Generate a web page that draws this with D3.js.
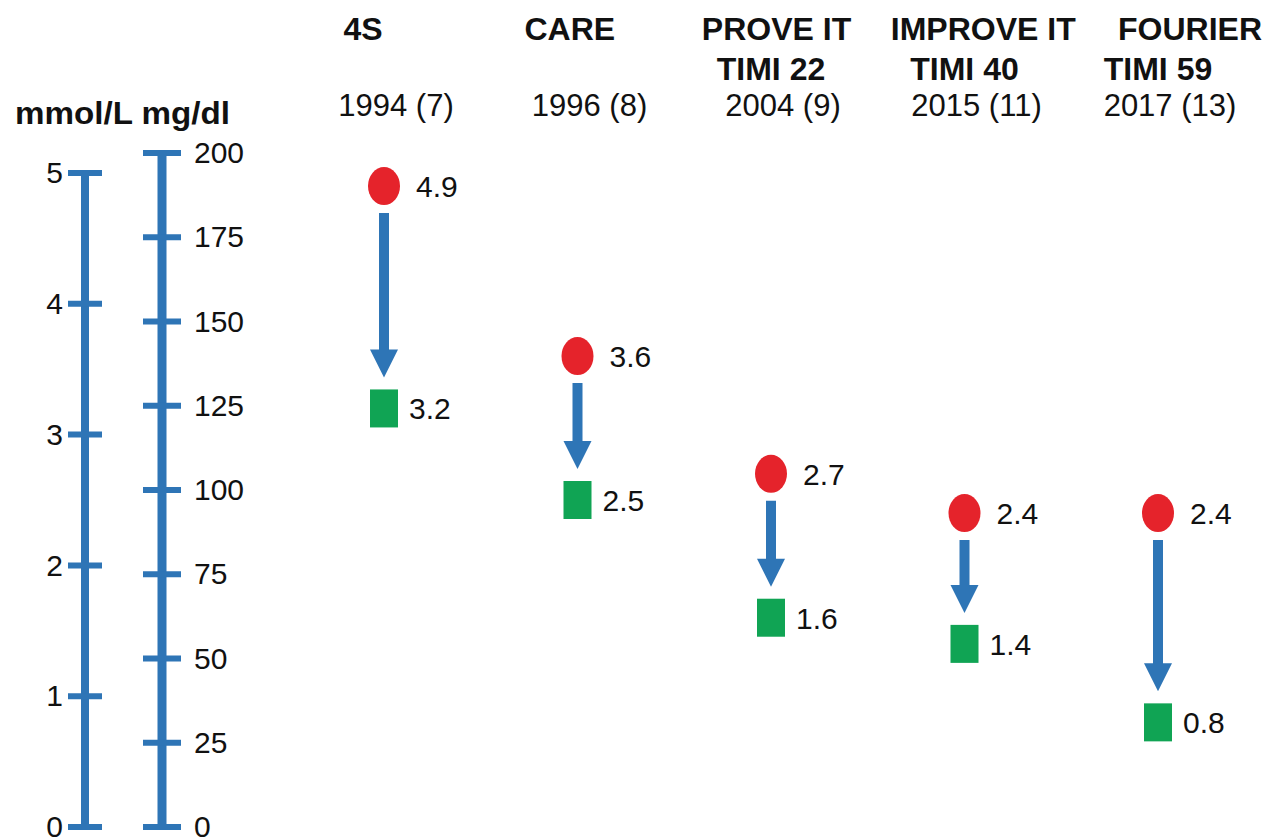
<!DOCTYPE html>
<html>
<head>
<meta charset="utf-8">
<script src="https://cdn.jsdelivr.net/npm/d3@7"></script>
<style>
  html, body { margin: 0; padding: 0; background: #ffffff; }
  svg { display: block; font-family: "Liberation Sans", Arial, sans-serif; }
</style>
</head>
<body>
<svg id="chart" width="1269" height="840"></svg>
<script>
// LDL-C before and after treatment in landmark lipid-lowering trials
const trials    = ["4S", "CARE", "PROVE IT", "IMPROVE IT", "FOURIER"];
const trialSub  = ["", "", "TIMI 22", "TIMI 40", "TIMI 59"];
const years     = ["1994 (7)", "1996 (8)", "2004 (9)", "2015 (11)", "2017 (13)"];
const baseline  = [4.9, 3.6, 2.7, 2.4, 2.4];   // mmol/L, control / baseline
const achieved  = [3.2, 2.5, 1.6, 1.4, 0.8];   // mmol/L, on treatment
const mmolTicks = [0, 1, 2, 3, 4, 5];
const mgdlTicks = [0, 25, 50, 75, 100, 125, 150, 175, 200];

const BLUE = "#2e75b6", RED = "#e5232b", GREEN = "#10a454";

const svg = d3.select("#chart");

const yMmol = d3.scaleLinear().domain([0, 5]).range([827, 173]);
const yMgdl = d3.scaleLinear().domain([0, 200]).range([827, 153]);
const x = d3.scalePoint().domain(trials).range([384, 1158]);
const xHead = d3.scalePoint().domain(trials).range([363, 1190]);

// ---- twin vertical scales ----
function drawScale(xc, scale, ticks, half, width, labelSide, labelOffset) {
  const g = svg.append("g");
  g.append("line")
    .attr("x1", xc).attr("x2", xc)
    .attr("y1", scale(ticks[0])).attr("y2", scale(ticks[ticks.length - 1]))
    .attr("stroke", BLUE).attr("stroke-width", width);
  g.selectAll("line.tick").data(ticks).join("line")
    .attr("class", "tick")
    .attr("x1", xc - half).attr("x2", xc + half)
    .attr("y1", d => scale(d)).attr("y2", d => scale(d))
    .attr("stroke", BLUE).attr("stroke-width", 6);
  g.selectAll("text").data(ticks).join("text")
    .attr("x", labelSide === "left" ? xc - labelOffset : xc + labelOffset)
    .attr("y", d => scale(d))
    .attr("dy", "0.34em")
    .attr("text-anchor", labelSide === "left" ? "end" : "start")
    .attr("font-size", 30)
    .attr("fill", "#111")
    .text(d => d);
}
drawScale(85, yMmol, mmolTicks, 17, 8, "left", 22);
drawScale(162, yMgdl, mgdlTicks, 19, 9, "right", 32);

svg.append("text")
  .attr("x", 15).attr("y", 124)
  .attr("font-size", 31).attr("font-weight", "bold").attr("fill", "#111")
  .attr("textLength", 215).attr("lengthAdjust", "spacingAndGlyphs")
  .text("mmol/L mg/dl");

// ---- trial headers ----
const head = svg.append("g").attr("fill", "#111");
head.selectAll("text.title").data(trials).join("text")
  .attr("class", "title")
  .attr("x", d => xHead(d)).attr("y", 40)
  .attr("text-anchor", "middle").attr("font-size", 32).attr("font-weight", "bold")
  .text(d => d);
head.selectAll("text.sub").data(trials).join("text")
  .attr("class", "sub")
  .attr("x", d => x(d)).attr("y", 80)
  .attr("text-anchor", "middle").attr("font-size", 32).attr("font-weight", "bold")
  .text((d, i) => trialSub[i]);
head.selectAll("text.year").data(trials).join("text")
  .attr("class", "year")
  .attr("x", d => x(d) + 12).attr("y", 116)
  .attr("text-anchor", "middle").attr("font-size", 31)
  .text((d, i) => years[i]);

// ---- before / after markers with arrows ----
const rx = 16, ry = 19, sqW = 28, sqH = 38;
const shaftW = 10, headW = 28, headL = 28;

const rows = trials.map((t, i) => ({ t, from: baseline[i], to: achieved[i] }));
const g = svg.append("g");

g.selectAll("path.arrow").data(rows).join("path")
  .attr("class", "arrow")
  .attr("fill", BLUE)
  .attr("d", d => {
    const cx = x(d.t);
    const y0 = yMmol(d.from) + ry + 8;
    const tip = yMmol(d.to) - sqH / 2 - 12;
    const yb = tip - headL;
    return `M${cx - shaftW / 2},${y0} L${cx + shaftW / 2},${y0} L${cx + shaftW / 2},${yb}` +
           ` L${cx + headW / 2},${yb} L${cx},${tip} L${cx - headW / 2},${yb} L${cx - shaftW / 2},${yb} Z`;
  });

g.selectAll("ellipse").data(rows).join("ellipse")
  .attr("cx", d => x(d.t)).attr("cy", d => yMmol(d.from))
  .attr("rx", rx).attr("ry", ry)
  .attr("fill", RED);

g.selectAll("rect").data(rows).join("rect")
  .attr("x", d => x(d.t) - sqW / 2).attr("y", d => yMmol(d.to) - sqH / 2)
  .attr("width", sqW).attr("height", sqH)
  .attr("fill", GREEN);

g.selectAll("text.from").data(rows).join("text")
  .attr("class", "from")
  .attr("x", d => x(d.t) + 32).attr("y", d => yMmol(d.from))
  .attr("dy", "0.36em").attr("font-size", 30).attr("fill", "#111")
  .text(d => d.from.toFixed(1));

g.selectAll("text.to").data(rows).join("text")
  .attr("class", "to")
  .attr("x", d => x(d.t) + 25).attr("y", d => yMmol(d.to))
  .attr("dy", "0.36em").attr("font-size", 30).attr("fill", "#111")
  .text(d => d.to.toFixed(1));
</script>
</body>
</html>
